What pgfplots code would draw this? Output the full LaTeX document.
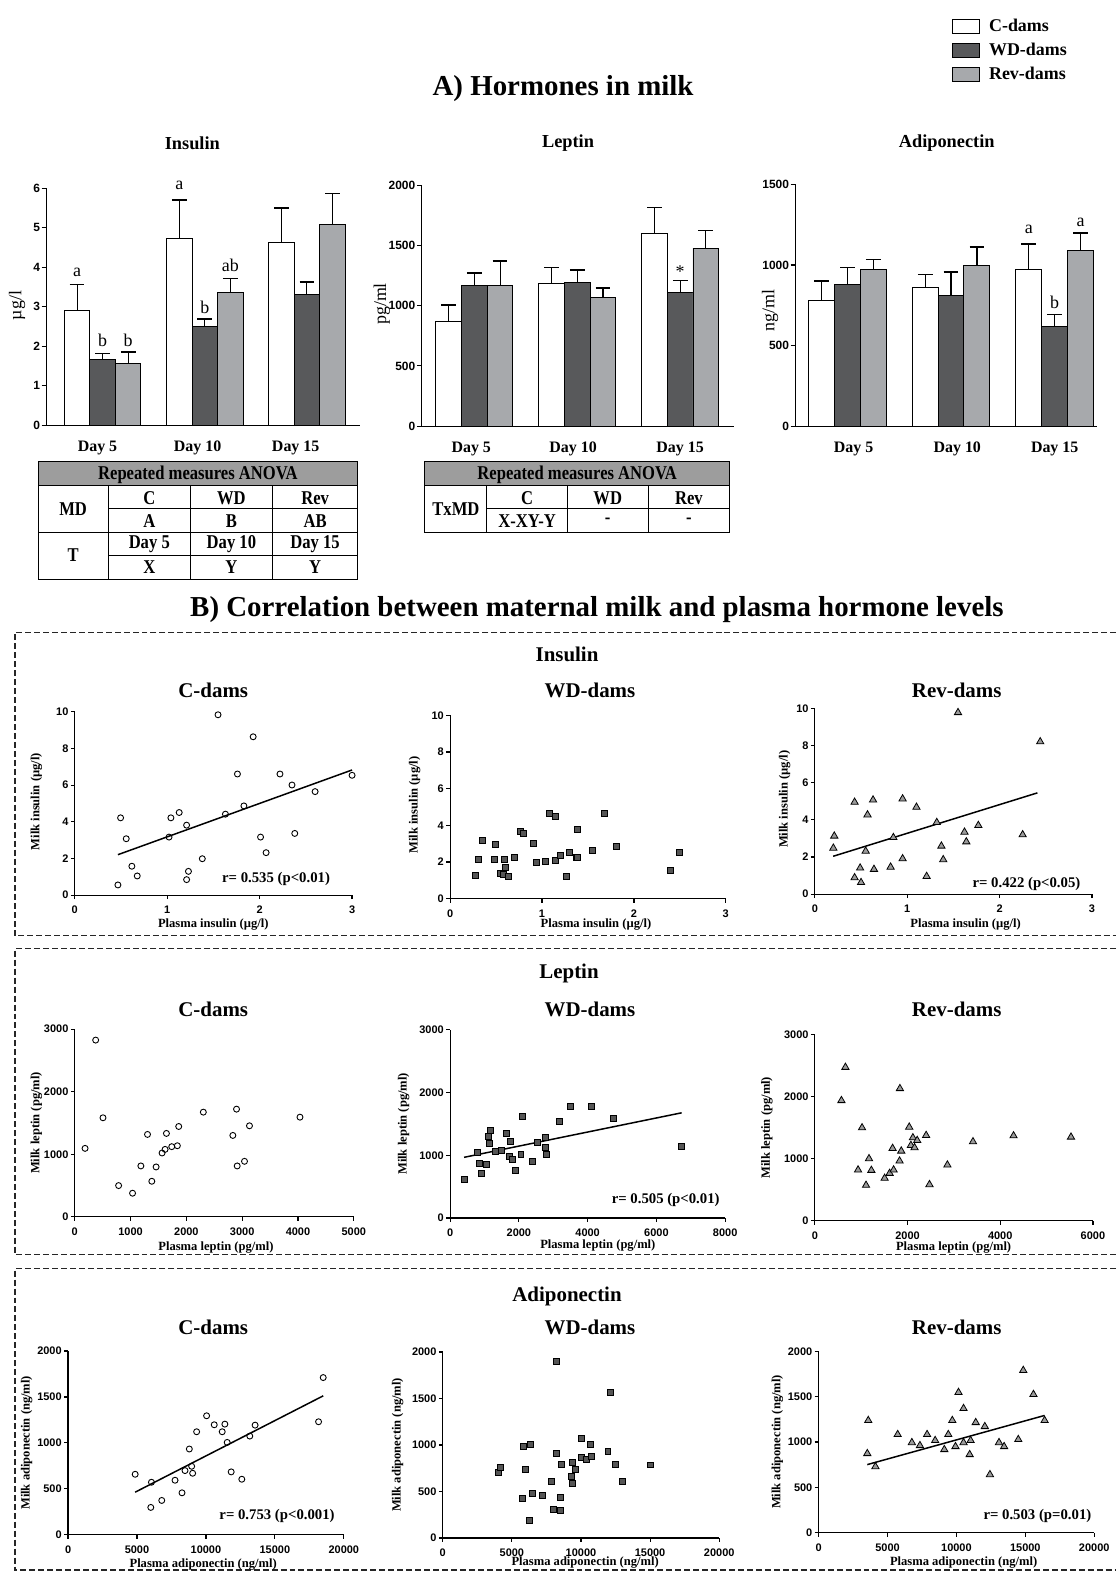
\documentclass[border=0pt]{standalone}
\usepackage{fontspec}
\setmainfont{Liberation Serif}
\setsansfont{Liberation Sans}
\usepackage{pgfplots}
\pgfplotsset{compat=1.18}
\definecolor{wdgray}{HTML}{58595B}
\definecolor{revgray}{HTML}{A7A9AC}
\definecolor{hdrgray}{HTML}{9D9D9D}
\definecolor{wdsq}{HTML}{555555}
\definecolor{revtri}{HTML}{9B9B9B}
\pgfplotsset{
  barax/.style={
    scale only axis, axis lines=left, axis line style={-,line width=0.55pt,black},
    ymin=0, xticklabels={Day 5,Day 10,Day 15},
    x tick style={draw=none}, y tick style={black,line width=0.55pt},
    tick align=outside, major tick length=2.5pt,
    yticklabel style={font=\sffamily\bfseries\fontsize{6}{7}\selectfont, inner sep=0pt, xshift=-0.6pt},
    xticklabel style={font=\bfseries\fontsize{8}{9}\selectfont, yshift=-2pt},
    /pgf/number format/assume math mode=true, /pgf/number format/1000 sep={},
    scaled ticks=false,
    ylabel style={font=\fontsize{9}{11}\selectfont, anchor=center},
    clip=false,
  },
  barbase/.style={ybar, bar width=0.25, bar shift=0pt, line width=0.5pt, draw=black,
    error bars/y dir=plus, error bars/y explicit,
    error bars/error bar style={black,line width=0.55pt},
    error bars/error mark options={rotate=90,black,line width=0.8pt,mark size=3.7pt},
    legend image code/.code={\draw[##1] (0pt,-3.5pt) rectangle (13.5pt,3.5pt);}},
  barC/.style={barbase, fill=white},
  barW/.style={barbase, fill=wdgray},
  barR/.style={barbase, fill=revgray},
  scat/.style={
    scale only axis, axis lines=left, axis line style={-,line width=0.6pt,black},
    tick align=outside, major tick length=2pt, tick style={black,line width=0.6pt},
    ticklabel style={font=\sffamily\bfseries\fontsize{5.5}{6.5}\selectfont},
    yticklabel style={inner sep=1pt},
    label style={font=\bfseries\fontsize{6.3}{7.5}\selectfont},
    xlabel style={anchor=center}, ylabel style={anchor=center},
    xmin=0, ymin=0, clip=false, scaled ticks=false,
    /pgf/number format/assume math mode=true, /pgf/number format/1000 sep={},
  },
  cdot/.style={only marks, mark=o, mark size=1.5pt, mark options={draw=black, line width=0.45pt}},
  wdpt/.style={only marks, mark=square*, mark size=1.5pt, mark options={draw=black, fill=wdsq, line width=0.4pt}},
  revpt/.style={only marks, mark=triangle*, mark size=2.1pt, mark options={draw=black, fill=revtri, line width=0.4pt}},
  regline/.style={black, line width=0.75pt, no marks},
}
\newcommand\ttl{\bfseries\fontsize{14.5}{17}\selectfont}
\newcommand\sub{\bfseries\fontsize{9.2}{11}\selectfont}
\newcommand\subb{\bfseries\fontsize{10.5}{12}\selectfont}
\newcommand\rtxt{\bfseries\fontsize{7.4}{9}\selectfont}
\newcommand\tbl{\bfseries\fontsize{9.8}{11}\selectfont}
\newcommand\ann{\fontsize{9}{10}\selectfont}
\begin{document}
\begin{tikzpicture}
\begin{scope}[x=0.5pt,y=-0.5pt]
\useasboundingbox (0,0) rectangle (1112,1577);
\coordinate (B1) at (46.7,426.7);
\coordinate (B2) at (423.3,427.7);
\coordinate (B3) at (798.3,427.7);
\coordinate (S11) at (75,898.3);
\coordinate (S12) at (451.7,901.7);
\coordinate (S13) at (817.7,897.3);
\coordinate (S21) at (75,1221);
\coordinate (S22) at (451.7,1222.3);
\coordinate (S23) at (817.7,1225);
\coordinate (S31) at (68.3,1540);
\coordinate (S32) at (444.3,1543.3);
\coordinate (S33) at (821.5,1538);
% titles
\node[font=\ttl] at (565,88.5) {A) Hormones in milk};
\node[font=\sub] at (193,144) {Insulin};
\node[font=\sub] at (570,144) {Leptin};
\node[font=\sub] at (950,144) {Adiponectin};
\node[font=\ttl] at (599,612) {B) Correlation between maternal milk and plasma hormone levels};
\node[font=\subb] at (569,656.5) {Insulin};
\node[font=\subb] at (571,977) {Leptin};
\node[font=\subb] at (569,1301) {Adiponectin};
\foreach \yy in {692.7,1013,1331.5}{
  \node[font=\subb] at (214,\yy) {C-dams};
  \node[font=\subb] at (592,\yy) {WD-dams};
  \node[font=\subb] at (960,\yy) {Rev-dams};
}
% r texts
\node[font=\rtxt] at (277,882) {r= 0.535 (p<0.01)};
\node[font=\rtxt] at (1030,887) {r= 0.422 (p<0.05)};
\node[font=\rtxt] at (668,1204) {r= 0.505 (p<0.01)};
\node[font=\rtxt] at (278,1521) {r= 0.753 (p<0.001)};
\node[font=\rtxt] at (1041,1521) {r= 0.503 (p=0.01)};
% dashed boxes
\begin{scope}[line width=0.65pt, dash pattern=on 3pt off 1.5pt, draw=black!85]
\draw (1120,634.5) -- (15,634.5) -- (15,939) -- (1120,939);
\draw (1120,952) -- (15,952) -- (15,1259) -- (1120,1259);
\draw (1120,1273) -- (15,1273) -- (15,1575.5) -- (1120,1575.5);
\end{scope}
% table 1
\fill[hdrgray] (38.2,463.5) rectangle (359,487.6);
\begin{scope}[line width=0.55pt]
\draw (38.2,463.5) rectangle (359,581.1);
\draw (38.2,487.6) -- (359,487.6);
\draw (38.2,533.9) -- (359,533.9);
\draw (108.6,510.7) -- (359,510.7);
\draw (108.6,557) -- (359,557);
\foreach \xx in {108.6,191,273.5} \draw (\xx,487.6) -- (\xx,581.1);
\end{scope}
\begin{scope}[every node/.style={font=\tbl, xscale=0.85}]
\node at (198.6,476) {Repeated measures ANOVA};
\node at (73.4,511) {MD};
\node at (73.4,557.5) {T};
\node at (149.8,499.5) {C};
\node at (232.2,499.5) {WD};
\node at (316.2,499.5) {Rev};
\node at (149.8,522.8) {A};
\node at (232.2,522.8) {B};
\node at (316.2,522.8) {AB};
\node at (149.8,546) {Day 5};
\node at (232.2,546) {Day 10};
\node at (316.2,546) {Day 15};
\node at (149.8,569.5) {X};
\node at (232.2,569.5) {Y};
\node at (316.2,569.5) {Y};
\end{scope}
% table 2
\fill[hdrgray] (426.3,463.5) rectangle (732,487.6);
\begin{scope}[line width=0.55pt]
\draw (426.3,463.5) rectangle (732,533.9);
\draw (426.3,487.6) -- (732,487.6);
\draw (488.6,510.7) -- (732,510.7);
\foreach \xx in {488.6,569.1,650.5} \draw (\xx,487.6) -- (\xx,533.9);
\end{scope}
\begin{scope}[every node/.style={font=\tbl, xscale=0.85}]
\node at (579.2,476) {Repeated measures ANOVA};
\node at (457.5,511) {TxMD};
\node at (528.9,499.5) {C};
\node at (609.8,499.5) {WD};
\node at (691.3,499.5) {Rev};
\node at (528.9,522.8) {X-XY-Y};
\node at (609.8,522.8) {-};
\node at (691.3,522.8) {-};
\end{scope}
\end{scope}

% ---------- bar chart: insulin
\begin{axis}[barax, at={(B1)}, anchor=south west, width=157.5pt, height=118.85pt,
  xmin=-0.549, xmax=2.524, ymax=6, ytick={0,1,...,6}, xtick={-0.05,0.93,1.89},
  ylabel={µg/l}, ylabel style={at={(axis description cs:-0.094,0.505)}}]
\addplot[barC] coordinates {(-0.25,2.90) +- (0,0.66) (0.75,4.73) +- (0,0.97) (1.75,4.64) +- (0,0.86)};
\addplot[barW] coordinates {(0,1.67) +- (0,0.15) (1,2.50) +- (0,0.19) (2,3.30) +- (0,0.33)};
\addplot[barR] coordinates {(0.25,1.57) +- (0,0.28) (1.25,3.37) +- (0,0.35) (2.25,5.09) +- (0,0.78)};
\node[font=\ann] at (axis cs:-0.25,3.87) {a};
\node[font=\ann] at (axis cs:0,2.16) {b};
\node[font=\ann] at (axis cs:0.25,2.16) {b};
\node[font=\ann] at (axis cs:0.75,6.08) {a};
\node[font=\ann] at (axis cs:1,2.98) {b};
\node[font=\ann] at (axis cs:1.25,4.05) {ab};
\end{axis}

% ---------- bar chart: leptin
\begin{axis}[barax, at={(B2)}, anchor=south west, width=156.7pt, height=121pt,
  xmin=-0.51, xmax=2.525, ymax=2000, ytick={0,500,...,2000}, xtick={-0.03,0.96,2.0},
  ylabel={pg/ml}, ylabel style={at={(axis description cs:-0.128,0.507)}}]
\addplot[barC] coordinates {(-0.25,870) +- (0,135) (0.75,1180) +- (0,138) (1.75,1595) +- (0,220)};
\addplot[barW] coordinates {(0,1165) +- (0,105) (1,1188) +- (0,107) (2,1110) +- (0,100)};
\addplot[barR] coordinates {(0.25,1165) +- (0,203) (1.25,1064) +- (0,81) (2.25,1478) +- (0,144)};
\node[font=\ann] at (axis cs:2,1285) {*};
\end{axis}

% ---------- bar chart: adiponectin
\begin{axis}[barax, at={(B3)}, anchor=south west, width=151.35pt, height=121.35pt,
  xmin=-0.5, xmax=2.41, ymax=1500, ytick={0,500,1000,1500}, xtick={0.06,1.06,2.0},
  ylabel={ng/ml}, ylabel style={at={(axis description cs:-0.084,0.477)}},
  legend style={at={(axis description cs:0.518,1.698)}, anchor=north west, draw=none, fill=none,
    inner sep=0pt, font=\bfseries\fontsize{9}{10}\selectfont, row sep=1.6pt, column sep=3pt,
    nodes={inner sep=1.5pt, text height=6.3pt, text depth=1.2pt}},
  legend cell align=left]
\addplot[barC] coordinates {(-0.25,780) +- (0,119) (0.75,858) +- (0,82) (1.75,972) +- (0,160)};
\addplot[barW] coordinates {(0,881) +- (0,103) (1,813) +- (0,142) (2,618) +- (0,74)};
\addplot[barR] coordinates {(0.25,972) +- (0,62) (1.25,998) +- (0,115) (2.25,1090) +- (0,107)};
\legend{C-dams,WD-dams,Rev-dams}
\node[font=\ann] at (axis cs:1.75,1222) {a};
\node[font=\ann] at (axis cs:2,767) {b};
\node[font=\ann] at (axis cs:2.25,1264) {a};
\end{axis}

% ================= scatter: insulin
\begin{axis}[scat, at={(S11)}, anchor=south west, width=139.15pt, height=92pt,
  xmax=3, ymax=10, xtick={0,1,2,3}, ytick={0,2,...,10},
  xlabel={Plasma insulin (µg/l)}, ylabel={Milk insulin (µg/l)},
  xlabel style={at={(axis description cs:0.4995,-0.158)}},
  ylabel style={at={(axis description cs:-0.138,0.51)}}]
\addplot[cdot] table[row sep=\\] {x y\\
0.467 0.56\\ 0.496 4.22\\ 0.557 3.08\\ 0.618 1.58\\ 0.676 1.05\\ 1.02 3.17\\ 1.04 4.22\\ 1.13 4.51\\
1.21 3.82\\ 1.21 0.85\\ 1.23 1.30\\ 1.38 1.99\\ 1.55 9.84\\ 1.63 4.42\\ 1.76 6.61\\ 1.83 4.87\\
1.93 8.64\\ 2.01 3.17\\ 2.07 2.32\\ 2.22 6.61\\ 2.35 6.01\\ 2.38 3.37\\ 2.60 5.65\\ 3.00 6.54\\};
\addplot[regline] coordinates {(0.467,2.21) (3.0,6.83)};
\end{axis}

\begin{axis}[scat, at={(S12)}, anchor=south west, width=138.3pt, height=92pt,
  xmax=3, ymax=10, xtick={0,1,2,3}, ytick={0,2,...,10},
  xlabel={Plasma insulin (µg/l)}, ylabel={Milk insulin (µg/l)},
  xlabel style={at={(axis description cs:0.529,-0.139)}},
  ylabel style={at={(axis description cs:-0.129,0.51)}}]
\addplot[wdpt] table[row sep=\\] {x y\\
0.28 1.27\\ 0.31 2.14\\ 0.35 3.15\\ 0.48 2.12\\ 0.49 2.97\\ 0.55 1.36\\ 0.58 1.30\\ 0.59 2.12\\
0.60 1.70\\ 0.63 1.23\\ 0.70 2.23\\ 0.76 3.64\\ 0.80 3.57\\ 0.91 3.03\\ 0.94 1.99\\ 1.04 2.05\\
1.08 4.67\\ 1.15 4.47\\ 1.15 2.10\\ 1.20 2.36\\ 1.26 1.21\\ 1.30 2.50\\ 1.37 2.23\\ 1.38 3.80\\
1.39 2.23\\ 1.55 2.64\\ 1.68 4.62\\ 1.81 2.86\\ 2.40 1.56\\ 2.49 2.52\\};
\end{axis}

\begin{axis}[scat, at={(S13)}, anchor=south west, width=139pt, height=93.3pt,
  xmax=3, ymax=10, xtick={0,1,2,3}, ytick={0,2,...,10},
  xlabel={Plasma insulin (µg/l)}, ylabel={Milk insulin (µg/l)},
  xlabel style={at={(axis description cs:0.544,-0.161)}},
  ylabel style={at={(axis description cs:-0.109,0.51)}}]
\addplot[revpt] table[row sep=\\] {x y\\
0.20 2.48\\ 0.21 3.13\\ 0.43 4.95\\ 0.43 0.89\\ 0.49 1.41\\ 0.50 0.63\\ 0.55 2.32\\ 0.57 4.27\\
0.63 5.07\\ 0.64 1.34\\ 0.82 1.46\\ 0.85 3.05\\ 0.95 5.13\\ 0.95 1.91\\ 1.10 4.68\\ 1.21 0.96\\
1.32 3.86\\ 1.37 2.59\\ 1.39 1.86\\ 1.55 9.77\\ 1.62 3.34\\ 1.64 2.82\\ 1.77 3.70\\ 2.25 3.20\\
2.44 8.20\\};
\addplot[regline] coordinates {(0.198,2.04) (2.41,5.45)};
\end{axis}

% ================= scatter: leptin
\begin{axis}[scat, at={(S21)}, anchor=south west, width=140pt, height=94.15pt,
  xmax=5000, ymax=3000, xtick={0,1000,...,5000}, ytick={0,1000,2000,3000},
  xlabel={Plasma leptin (pg/ml)}, ylabel={Milk leptin (pg/ml)},
  xlabel style={at={(axis description cs:0.506,-0.163)}},
  ylabel style={at={(axis description cs:-0.137,0.5)}}]
\addplot[cdot] table[row sep=\\] {x y\\
185 1094\\ 375 2825\\ 506 1583\\ 786 499\\ 1036 377\\ 1185 813\\ 1304 1317\\ 1381 568\\
1458 797\\ 1565 1020\\ 1619 1078\\ 1643 1333\\ 1738 1121\\ 1839 1136\\ 1863 1444\\ 2304 1673\\
2833 1301\\ 2899 1721\\ 2911 813\\ 3042 887\\ 3131 1455\\ 4036 1593\\};
\end{axis}

\begin{axis}[scat, at={(S22)}, anchor=south west, width=138pt, height=94.5pt,
  xmax=8000, ymax=3000, xtick={0,2000,...,8000}, ytick={0,1000,2000,3000},
  xlabel={Plasma leptin (pg/ml)}, ylabel={Milk leptin (pg/ml)},
  xlabel style={at={(axis description cs:0.537,-0.147)}},
  ylabel style={at={(axis description cs:-0.169,0.5)}}]
\addplot[wdpt] table[row sep=\\] {x y\\
406 619\\ 802 1042\\ 850 873\\ 899 714\\ 1043 852\\ 1101 1302\\ 1150 1185\\ 1179 1397\\
1324 1058\\ 1488 1085\\ 1633 1344\\ 1729 979\\ 1758 1222\\ 1816 931\\ 1894 757\\ 2058 1011\\
2097 1619\\ 2396 910\\ 2551 1201\\ 2763 1280\\ 2773 1132\\ 2802 1016\\ 3169 1545\\ 3498 1783\\
4106 1783\\ 4744 1582\\ 6734 1148\\};
\addplot[regline] coordinates {(406,968) (6734,1677)};
\end{axis}

\begin{axis}[scat, at={(S23)}, anchor=south west, width=139.5pt, height=93.35pt,
  xmax=6000, ymax=3000, xtick={0,2000,4000,6000}, ytick={0,1000,2000,3000},
  xlabel={Plasma leptin (pg/ml)}, ylabel={Milk leptin (pg/ml)},
  xlabel style={at={(axis description cs:0.499,-0.143)}},
  ylabel style={at={(axis description cs:-0.173,0.5)}}]
\addplot[revpt] table[row sep=\\] {x y\\
573 1939\\ 659 2475\\ 932 820\\ 1018 1500\\ 1104 573\\ 1168 1002\\ 1219 814\\ 1505 686\\
1613 766\\ 1677 1168\\ 1699 820\\ 1864 1125\\ 1828 964\\ 1835 2132\\ 2036 1511\\ 2072 1216\\
2115 1339\\ 2151 1179\\ 2208 1296\\ 2401 1377\\ 2473 584\\ 2860 900\\ 3412 1275\\ 4287 1371\\
5527 1350\\};
\end{axis}

% ================= scatter: adiponectin
\begin{axis}[scat, at={(S31)}, anchor=south west, width=138.35pt, height=92.15pt,
  xmax=20000, ymax=2000, xtick={0,5000,...,20000}, ytick={0,500,...,2000},
  xlabel={Plasma adiponectin (ng/ml)}, ylabel={Milk adiponectin (ng/ml)},
  xlabel style={at={(axis description cs:0.49,-0.163)}},
  ylabel style={at={(axis description cs:-0.150,0.5)}}]
\addplot[cdot] table[row sep=\\] {x y\\
4867 658\\ 6048 571\\ 6000 297\\ 6795 373\\ 7759 593\\ 8265 456\\ 8482 698\\ 8795 933\\
8964 745\\ 9036 669\\ 9325 1121\\ 10048 1295\\ 10602 1197\\ 11181 1121\\ 11373 1204\\ 11542 1005\\
11831 684\\ 12602 604\\ 13181 1074\\ 13566 1193\\ 18169 1230\\ 18506 1711\\};
\addplot[regline] coordinates {(4867,463) (18506,1512)};
\end{axis}

\begin{axis}[scat, at={(S32)}, anchor=south west, width=138.7pt, height=93.3pt,
  xmax=20000, ymax=2000, xtick={0,5000,...,20000}, ytick={0,500,...,2000},
  xlabel={Plasma adiponectin (ng/ml)}, ylabel={Milk adiponectin (ng/ml)},
  xlabel style={at={(axis description cs:0.515,-0.134)}},
  ylabel style={at={(axis description cs:-0.163,0.5)}}]
\addplot[wdpt] table[row sep=\\] {x y\\
4014 704\\ 4135 757\\ 5769 425\\ 5817 989\\ 6010 736\\ 6274 193\\ 6322 1004\\ 6490 482\\
7212 454\\ 7837 607\\ 8029 307\\ 8197 911\\ 8245 1900\\ 8486 296\\ 8534 436\\ 8558 793\\
9303 661\\ 9375 586\\ 9399 818\\ 9591 736\\ 10024 864\\ 10024 1071\\ 10385 846\\ 10697 1011\\
10769 875\\ 11947 936\\ 12139 1564\\ 12500 793\\ 12981 607\\ 15024 786\\};
\end{axis}

\begin{axis}[scat, at={(S33)}, anchor=south west, width=138.25pt, height=91pt,
  xmax=20000, ymax=2000, xtick={0,5000,...,20000}, ytick={0,500,...,2000},
  xlabel={Plasma adiponectin (ng/ml)}, ylabel={Milk adiponectin (ng/ml)},
  xlabel style={at={(axis description cs:0.526,-0.162)}},
  ylabel style={at={(axis description cs:-0.150,0.5)}}]
\addplot[revpt] table[row sep=\\] {x y\\
3600 1238\\ 3530 873\\ 4120 729\\ 5735 1083\\ 6765 994\\ 7350 961\\ 7870 1083\\ 8455 1017\\
9120 917\\ 9410 1083\\ 9700 1238\\ 9930 950\\ 10150 1547\\ 10515 994\\ 10515 1370\\ 10960 862\\
11400 1215\\ 11030 1017\\ 12060 1171\\ 12430 641\\ 13090 994\\ 13460 950\\ 14490 1028\\ 14850 1790\\
15590 1525\\ 16400 1238\\};
\addplot[regline] coordinates {(3530,751) (16400,1293)};
\end{axis}
\end{tikzpicture}
\end{document}
